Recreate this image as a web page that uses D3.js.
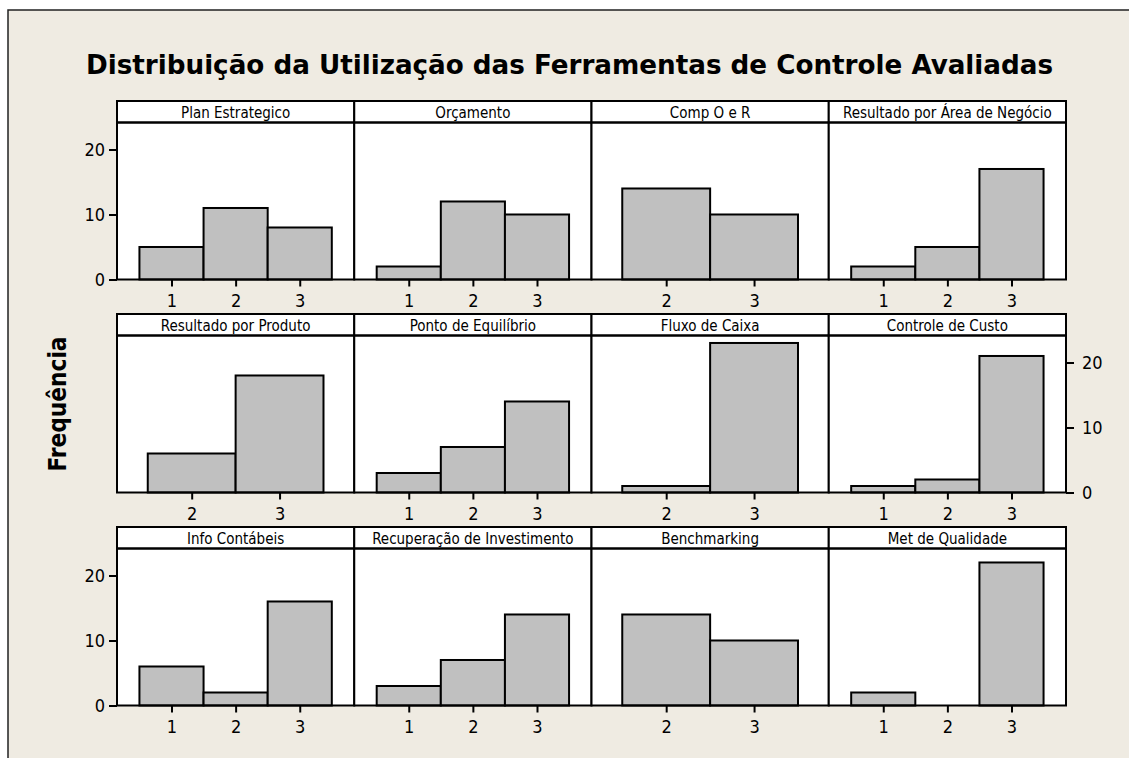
<!DOCTYPE html>
<html>
<head>
<meta charset="utf-8">
<script src="https://cdn.jsdelivr.net/npm/d3@7"></script>
<style>
  html, body { margin: 0; padding: 0; background: #ffffff; }
  svg { display: block; }
</style>
</head>
<body>
<script>
// ---- data ----
const titleText = "Distribuição da Utilização das Ferramentas de Controle Avaliadas";
const yLabelText = "Frequência";
const panelNames = [
  "Plan Estrategico", "Orçamento", "Comp O e R", "Resultado por Área de Negócio",
  "Resultado por Produto", "Ponto de Equilíbrio", "Fluxo de Caixa", "Controle de Custo",
  "Info Contábeis", "Recuperação de Investimento", "Benchmarking", "Met de Qualidade"
];
const panelCategories = [
  [1, 2, 3], [1, 2, 3], [2, 3], [1, 2, 3],
  [2, 3], [1, 2, 3], [2, 3], [1, 2, 3],
  [1, 2, 3], [1, 2, 3], [2, 3], [1, 2, 3]
];
const panelFrequencies = [
  [5, 11, 8], [2, 12, 10], [14, 10], [2, 5, 17],
  [6, 18], [3, 7, 14], [1, 23], [1, 2, 21],
  [6, 2, 16], [3, 7, 14], [14, 10], [2, 0, 22]
];
const yTicks = [0, 10, 20];
const yMax = 24.15;

// ---- layout ----
const W = 1129, H = 758;
const gridLeft = 117, colW = 237.25;
const rowTop0 = 101, rowPitch = 213, headerH = 21.5, plotH = 157;
const nCols = 4;
const fontCond = "'DejaVu Sans Condensed', 'DejaVu Sans', sans-serif";

const svg = d3.select("body").append("svg").attr("width", W).attr("height", H);

// background with frame
svg.append("rect").attr("x", 0).attr("y", 0).attr("width", W).attr("height", H).attr("fill", "#ffffff");
svg.append("rect").attr("x", 8).attr("y", 10).attr("width", W + 10).attr("height", H + 10)
  .attr("fill", "#EFEBE2").attr("stroke", "#222").attr("stroke-width", 1.5);

// title
svg.append("text")
  .attr("x", 569.5).attr("y", 74)
  .attr("text-anchor", "middle")
  .attr("font-family", fontCond).attr("font-weight", "bold")
  .attr("font-size", 26)
  .attr("textLength", 967).attr("lengthAdjust", "spacingAndGlyphs")
  .attr("fill", "#000")
  .text(titleText);

// y label
svg.append("text")
  .attr("transform", "translate(66,404) rotate(-90)")
  .attr("text-anchor", "middle")
  .attr("font-family", fontCond).attr("font-weight", "bold")
  .attr("font-size", 24)
  .attr("textLength", 135).attr("lengthAdjust", "spacingAndGlyphs")
  .attr("fill", "#000")
  .text(yLabelText);

panelNames.forEach((name, i) => {
  const col = i % nCols, row = Math.floor(i / nCols);
  const x0 = gridLeft + col * colW, x1 = x0 + colW;
  const top = rowTop0 + row * rowPitch;
  const pTop = top + headerH, pBot = pTop + plotH;
  const cats = panelCategories[i], vals = panelFrequencies[i];

  const x = d3.scaleLinear()
    .domain([d3.min(cats) - 0.85, d3.max(cats) + 0.85])
    .range([x0, x1]);
  const y = d3.scaleLinear().domain([0, yMax]).range([pBot, pTop]);

  const g = svg.append("g");

  // plot background
  g.append("rect").attr("x", x0).attr("y", pTop).attr("width", colW).attr("height", plotH)
    .attr("fill", "#ffffff");

  // bars
  g.selectAll("rect.bar").data(cats.map((c, k) => ({ c, v: vals[k] })))
    .enter().append("rect").attr("class", "bar")
    .attr("x", d => x(d.c - 0.5))
    .attr("width", d => x(d.c + 0.5) - x(d.c - 0.5))
    .attr("y", d => y(d.v))
    .attr("height", d => y(0) - y(d.v))
    .attr("fill", "#C0C0C0")
    .attr("stroke", "#000").attr("stroke-width", 2);

  // x axis
  const xAxis = d3.axisBottom(x).tickValues(cats).tickFormat(d3.format("d"))
    .tickSize(7).tickPadding(8);
  const xa = g.append("g").attr("transform", `translate(0,${pBot})`).call(xAxis);
  xa.select(".domain").remove();
  xa.selectAll(".tick line").attr("stroke", "#000").attr("stroke-width", 2);
  xa.selectAll(".tick text").attr("font-family", fontCond).attr("font-size", 18).attr("fill", "#000");

  // y axis
  if (row !== 1 && col === 0) {
    const ya = g.append("g").attr("transform", `translate(${x0},0)`)
      .call(d3.axisLeft(y).tickValues(yTicks).tickSize(8).tickPadding(4));
    ya.select(".domain").remove();
    ya.selectAll(".tick line").attr("stroke", "#000").attr("stroke-width", 2);
    ya.selectAll(".tick text").attr("font-family", fontCond).attr("font-size", 18).attr("fill", "#000");
  }
  if (row === 1 && col === nCols - 1) {
    const ya = g.append("g").attr("transform", `translate(${x1},0)`)
      .call(d3.axisRight(y).tickValues(yTicks).tickSize(8).tickPadding(8));
    ya.select(".domain").remove();
    ya.selectAll(".tick line").attr("stroke", "#000").attr("stroke-width", 2);
    ya.selectAll(".tick text").attr("font-family", fontCond).attr("font-size", 18).attr("fill", "#000");
  }

  // header
  g.append("rect").attr("x", x0).attr("y", top).attr("width", colW).attr("height", headerH)
    .attr("fill", "#ffffff").attr("stroke", "#000").attr("stroke-width", 2);
  g.append("text")
    .attr("x", (x0 + x1) / 2).attr("y", top + 16.5)
    .attr("text-anchor", "middle")
    .attr("font-family", fontCond).attr("font-size", 15)
    .attr("fill", "#000")
    .text(name);

  // panel frame
  g.append("rect").attr("x", x0).attr("y", pTop).attr("width", colW).attr("height", plotH)
    .attr("fill", "none").attr("stroke", "#000").attr("stroke-width", 2);
});
</script>
</body>
</html>
